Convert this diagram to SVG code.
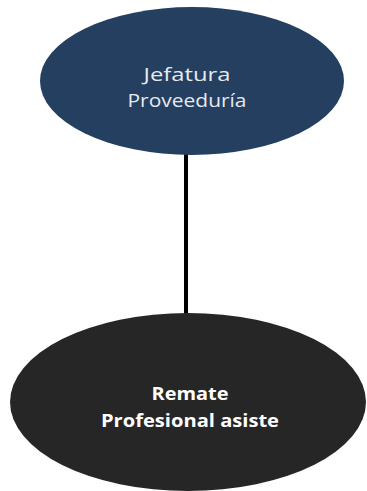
<svg xmlns="http://www.w3.org/2000/svg" width="367" height="491" viewBox="0 0 367 491">
<style>
.lbl{font-family:"Open Sans","Liberation Sans",sans-serif;text-anchor:middle}
.t1{font-size:19px;fill:#E6E9EE}
.t2{font-size:18px;font-weight:bold;fill:#FFFFFF}
</style>
<rect width="367" height="491" fill="#FFFFFF"/>
<g id="connectors">
<line x1="186" y1="152" x2="186" y2="316" stroke="#000000" stroke-width="4"/>
</g>
<g id="node-jefatura">
<ellipse cx="192" cy="81" rx="152" ry="74" fill="#243F60"/>
<text class="lbl t1" x="187" y="81" textLength="87" lengthAdjust="spacingAndGlyphs">Jefatura</text>
<text class="lbl t1" x="187" y="107" textLength="119" lengthAdjust="spacingAndGlyphs">Proveeduría</text>
</g>
<g id="node-remate">
<ellipse cx="188" cy="402" rx="178" ry="89" fill="#262626"/>
<text class="lbl t2" x="190" y="400" textLength="77" lengthAdjust="spacingAndGlyphs">Remate</text>
<text class="lbl t2" x="190" y="427" textLength="178" lengthAdjust="spacingAndGlyphs">Profesional asiste</text>
</g>
</svg>
